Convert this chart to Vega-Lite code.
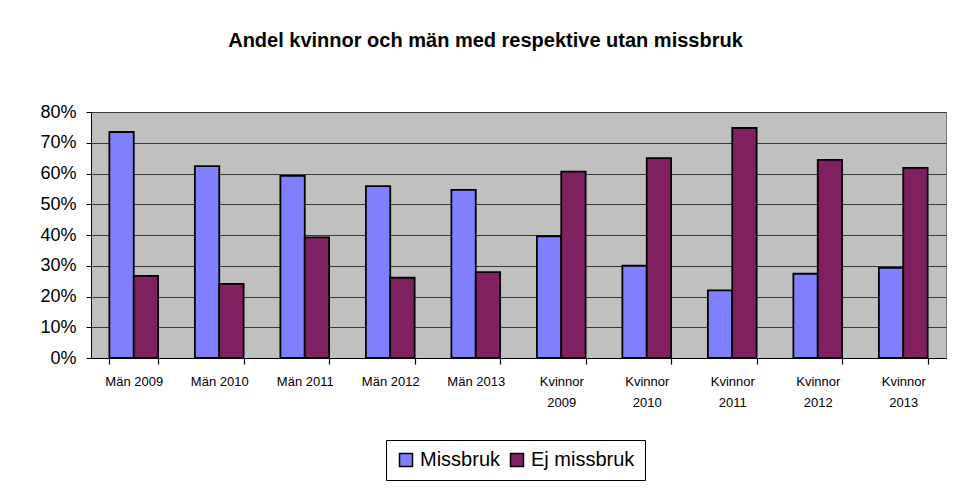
{
  "$schema": "https://vega.github.io/schema/vega-lite/v6.json",
  "width": 855,
  "height": 246,
  "autosize": "none",
  "padding": {"left": 91, "top": 112, "right": 18, "bottom": 133},
  "background": "white",
  "title": {
    "text": "Andel kvinnor och män med respektive utan missbruk",
    "font": "Liberation Sans",
    "fontSize": 20,
    "fontWeight": "bold",
    "color": "black",
    "anchor": "middle",
    "dx": -33,
    "offset": 52
  },
  "config": {
    "font": "Liberation Sans",
    "view": {"fill": "#C0C0C0", "stroke": "#808080", "strokeWidth": 1},
    "axisX": {"ticks": true, "tickSize": 6, "tickColor": "black", "tickWidth": 1.2, "tickBand": "extent", "tickOpacity": 1}
  },
  "data": {
    "values": [
      {"cat": "Män 2009", "grupp": "Missbruk", "value": 0.735},
      {"cat": "Män 2009", "grupp": "Ej missbruk", "value": 0.267},
      {"cat": "Män 2010", "grupp": "Missbruk", "value": 0.624},
      {"cat": "Män 2010", "grupp": "Ej missbruk", "value": 0.241},
      {"cat": "Män 2011", "grupp": "Missbruk", "value": 0.592},
      {"cat": "Män 2011", "grupp": "Ej missbruk", "value": 0.392},
      {"cat": "Män 2012", "grupp": "Missbruk", "value": 0.559},
      {"cat": "Män 2012", "grupp": "Ej missbruk", "value": 0.261},
      {"cat": "Män 2013", "grupp": "Missbruk", "value": 0.547},
      {"cat": "Män 2013", "grupp": "Ej missbruk", "value": 0.279},
      {"cat": "Kvinnor 2009", "grupp": "Missbruk", "value": 0.396},
      {"cat": "Kvinnor 2009", "grupp": "Ej missbruk", "value": 0.606},
      {"cat": "Kvinnor 2010", "grupp": "Missbruk", "value": 0.300},
      {"cat": "Kvinnor 2010", "grupp": "Ej missbruk", "value": 0.650},
      {"cat": "Kvinnor 2011", "grupp": "Missbruk", "value": 0.220},
      {"cat": "Kvinnor 2011", "grupp": "Ej missbruk", "value": 0.748},
      {"cat": "Kvinnor 2012", "grupp": "Missbruk", "value": 0.274},
      {"cat": "Kvinnor 2012", "grupp": "Ej missbruk", "value": 0.644},
      {"cat": "Kvinnor 2013", "grupp": "Missbruk", "value": 0.293},
      {"cat": "Kvinnor 2013", "grupp": "Ej missbruk", "value": 0.618}
    ]
  },
  "mark": {"type": "bar", "stroke": "black", "strokeWidth": 1.8},
  "encoding": {
    "x": {
      "field": "cat",
      "type": "nominal",
      "sort": null,
      "scale": {"paddingInner": 0.43, "paddingOuter": 0.215},
      "axis": {
        "title": null,
        "labelAngle": 0,
        "labelFontSize": 13,
        "labelColor": "black",
        "labelPadding": 17,
        "labelLineHeight": 21.5,
        "labelBaseline": "middle",
        "labelExpr": "indexof(datum.label, 'Kvinnor') == 0 ? split(datum.label, ' ') : datum.label",
        "ticks": true,
        "tickBand": "extent",
        "tickSize": 6,
        "tickColor": "black",
        "tickWidth": 1.2,
        "domainColor": "black",
        "domainWidth": 1,
        "labelFlush": false
      }
    },
    "xOffset": {"field": "grupp", "type": "nominal", "sort": ["Missbruk", "Ej missbruk"]},
    "y": {
      "field": "value",
      "type": "quantitative",
      "scale": {"domain": [0, 0.8], "nice": false},
      "axis": {
        "title": null,
        "format": ".0%",
        "values": [0, 0.1, 0.2, 0.3, 0.4, 0.5, 0.6, 0.7, 0.8],
        "labelFontSize": 18,
        "labelColor": "black",
        "labelPadding": 10,
        "tickSize": 5,
        "tickColor": "black",
        "domainColor": "black",
        "gridColor": "#383838",
        "gridWidth": 1
      }
    },
    "color": {
      "field": "grupp",
      "type": "nominal",
      "scale": {"domain": ["Missbruk", "Ej missbruk"], "range": ["#8080FF", "#802060"]},
      "legend": {
        "title": null,
        "orient": "none",
        "legendX": 295,
        "legendY": 328,
        "direction": "horizontal",
        "fillColor": "white",
        "strokeColor": "black",
        "padding": 10,
        "symbolType": "square",
        "symbolSize": 169,
        "symbolStrokeColor": "black",
        "symbolStrokeWidth": 1.5,
        "symbolOpacity": 1,
        "labelFontSize": 20,
        "labelColor": "black",
        "labelOffset": 4,
        "columnPadding": 6
      }
    }
  }
}
